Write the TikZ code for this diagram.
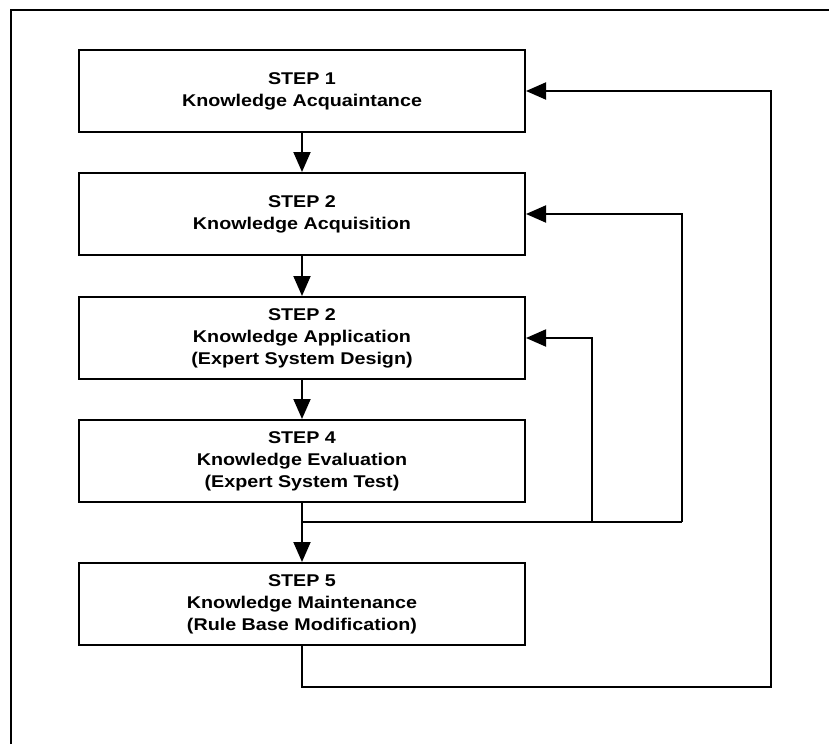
\documentclass[tikz,border=0pt]{standalone}
\usepackage{fontspec}
\newfontfamily\stepfont[FakeStretch=1.16]{Liberation Sans}
\usetikzlibrary{arrows.meta}
\begin{document}
\begin{tikzpicture}[x=1pt,y=-1pt,
  stepbox/.style={draw, line width=2pt, minimum width=446pt, minimum height=82pt,
    inner sep=0pt, align=center,
    font=\stepfont\bfseries\fontsize{17}{22}\selectfont},
  flow/.style={line width=1.9pt, -{Triangle[length=20pt,width=17pt]}},
  link/.style={line width=1.9pt}]
\useasboundingbox (0,0) rectangle (829,744);

% page frame
\draw[line width=1.6pt] (11,744) -- (11,10) -- (829,10);

% the five steps
\node[stepbox] (s1) at (302,91)  {STEP 1\\Knowledge Acquaintance};
\node[stepbox] (s2) at (302,214) {STEP 2\\Knowledge Acquisition};
\node[stepbox] (s3) at (302,338) {STEP 2\\Knowledge Application\\(Expert System Design)};
\node[stepbox] (s4) at (302,461) {STEP 4\\Knowledge Evaluation\\(Expert System Test)};
\node[stepbox] (s5) at (302,604) {STEP 5\\Knowledge Maintenance\\(Rule Base Modification)};

% forward flow
\draw[flow] (s1.south) -- (s2.north);
\draw[flow] (s2.south) -- (s3.north);
\draw[flow] (s3.south) -- (s4.north);
\draw[flow] (s4.south) -- (s5.north);

% feedback from evaluation
\coordinate (j)  at (302,522);
\coordinate (ja) at (592,522);
\coordinate (jr) at (682,522);
\draw[link] (j) -- (jr);
\draw[flow] (jr) |- (s2.east);
\draw[flow] (ja) |- (s3.east);

% feedback from maintenance
\coordinate (lb) at (771,687);
\draw[flow] (s5.south) |- (lb) |- (s1.east);
\end{tikzpicture}
\end{document}
